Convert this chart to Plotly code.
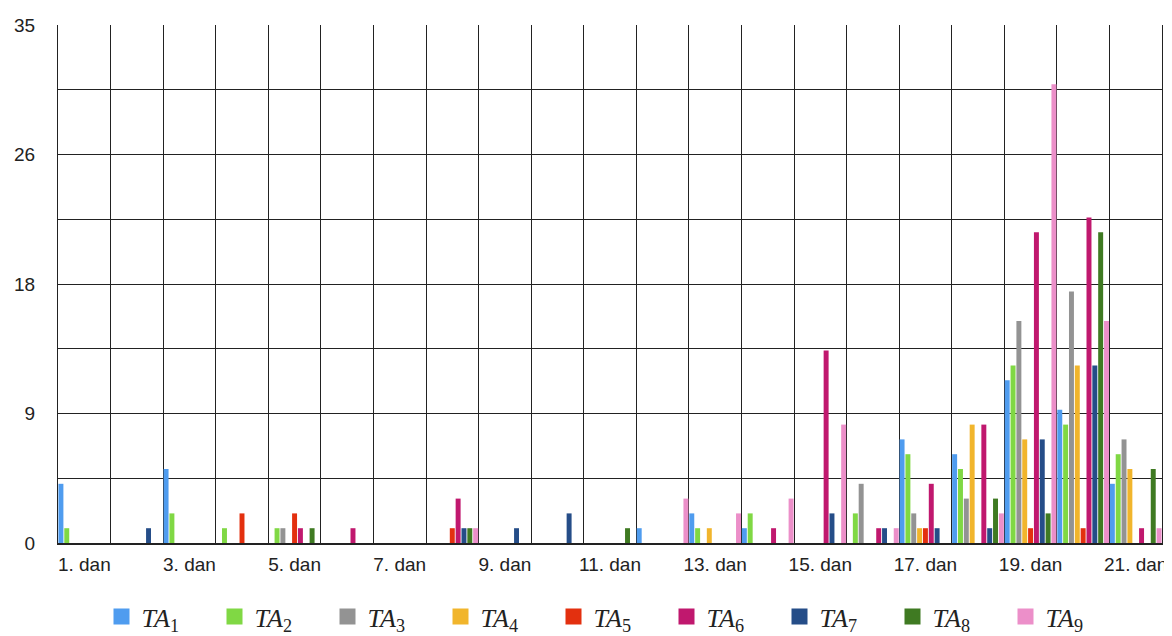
import plotly.graph_objects as go

# days on the x axis
DAYS = [f"{d}. dan" for d in range(1, 22)]

SERIES = ["TA1", "TA2", "TA3", "TA4", "TA5", "TA6", "TA7", "TA8", "TA9"]
LEGEND_NAMES = [f"<i>TA</i><sub>{i}</sub>" for i in range(1, 10)]

#              d1 d2 d3 d4 d5 d6 d7 d8 d9 d10 d11 d12 d13 d14 d15 d16 d17 d18 d19 d20 d21
TA1 = [4, 0, 5, 0, 0, 0, 0, 0, 0, 0, 0, 1, 2, 1, 0, 0, 7, 6, 11, 9, 4]
TA2 = [1, 0, 2, 1, 1, 0, 0, 0, 0, 0, 0, 0, 1, 2, 0, 2, 6, 5, 12, 8, 6]
TA3 = [0, 0, 0, 0, 1, 0, 0, 0, 0, 0, 0, 0, 0, 0, 0, 4, 2, 3, 15, 17, 7]
TA4 = [0, 0, 0, 0, 0, 0, 0, 0, 0, 0, 0, 0, 1, 0, 0, 0, 1, 8, 7, 12, 5]
TA5 = [0, 0, 0, 2, 2, 0, 0, 1, 0, 0, 0, 0, 0, 0, 0, 0, 1, 0, 1, 1, 0]
TA6 = [0, 0, 0, 0, 1, 1, 0, 3, 0, 0, 0, 0, 0, 1, 13, 1, 4, 8, 21, 22, 1]
TA7 = [0, 1, 0, 0, 0, 0, 0, 1, 1, 2, 0, 0, 0, 0, 2, 1, 1, 1, 7, 12, 0]
TA8 = [0, 0, 0, 0, 1, 0, 0, 1, 0, 0, 1, 0, 0, 0, 0, 0, 0, 3, 2, 21, 5]
TA9 = [0, 0, 0, 0, 0, 0, 0, 1, 0, 0, 0, 3, 2, 3, 8, 1, 0, 2, 31, 15, 1]
VALUES = [TA1, TA2, TA3, TA4, TA5, TA6, TA7, TA8, TA9]

COLORS = ["#4f9cef", "#80d844", "#939393", "#f1b52c", "#e3300f",
          "#c0186e", "#254d88", "#3f7a22", "#ec8fc9"]

# labelled y ticks, plus the unlabelled grid lines halfway between them
Y_TICKS = [0, 8.75, 17.5, 26.25, 35]
Y_TICK_TEXT = ["0", "9", "18", "26", "35"]
Y_GRID = [4.375, 13.125, 21.875, 30.625]

x_pos = list(range(len(DAYS)))
boundaries = [i - 0.5 for i in range(len(DAYS) + 1)]

fig = go.Figure()
for name, label, vals, color in zip(SERIES, LEGEND_NAMES, VALUES, COLORS):
    fig.add_trace(go.Bar(x=x_pos, y=vals, name=label, marker_color=color,
                         marker_line_width=0, showlegend=False))
# legend-only entries, so the swatches can be bigger than plotly's bar icon
for label, color in zip(LEGEND_NAMES, COLORS):
    fig.add_trace(go.Scatter(x=[None], y=[None], mode="markers", name=label,
                             marker=dict(symbol="square", size=16, color=color)))

# the page body adds an 8px margin, so the figure is 8px smaller than the window
fig.update_layout(
    width=1164,
    height=628,
    barmode="group",
    bargap=0,
    bargroupgap=0.15,
    plot_bgcolor="white",
    paper_bgcolor="white",
    margin=dict(l=50, r=10, t=17, b=93, autoexpand=False),
    font=dict(family="Liberation Sans, Arial, sans-serif", size=19, color="#222"),
    legend=dict(
        orientation="h",
        x=0.5, xanchor="center",
        y=-0.142, yanchor="middle",
        font=dict(family="Liberation Serif, DejaVu Serif, serif", size=26, color="#222"),
        entrywidth=68,
        itemwidth=30,
        traceorder="normal",
    ),
)

fig.update_xaxes(
    range=[-0.5, len(DAYS) - 0.5],
    tickvals=x_pos[::2],
    ticktext=DAYS[::2],
    showgrid=False,
    ticks="",
    automargin=False,
    ticklabelstandoff=3,
    showline=True, linecolor="#222", linewidth=2,
    minor=dict(tickvals=boundaries, showgrid=True, gridcolor="#222", gridwidth=1, ticks=""),
    zeroline=False,
)
fig.update_yaxes(
    range=[0, 35],
    tickvals=Y_TICKS,
    ticktext=Y_TICK_TEXT,
    showgrid=True, gridcolor="#222", gridwidth=1,
    minor=dict(tickvals=Y_GRID, showgrid=True, gridcolor="#222", gridwidth=1, ticks=""),
    showline=True, linecolor="#222", linewidth=1, mirror=True,
    zeroline=False,
    ticks="",
    automargin=False,
    ticklabelstandoff=18,
)

fig.write_html("out.html")
